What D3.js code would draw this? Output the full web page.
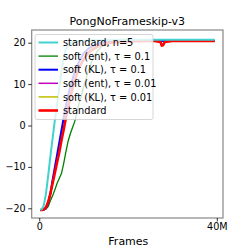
<!DOCTYPE html>
<html><head><meta charset="utf-8">
<script src="https://cdn.jsdelivr.net/npm/d3@7"></script>
<style>body{margin:0;background:#fff}svg{display:block}text{font-family:"DejaVu Sans",sans-serif;fill:#000}</style>
</head><body><svg id="c" width="249" height="249"></svg>
<script>
const title = "PongNoFrameskip-v3";
const xLabel = "Frames";
const xTicks = [0, 40];
const xTickLabels = ["0", "40M"];
const yTicks = [-20, -10, 0, 10, 20];
const seriesNames = ["standard, n=5", "soft (ent), \u03c4 = 0.1", "soft (KL), \u03c4 = 0.1", "soft (ent), \u03c4 = 0.01", "soft (KL), \u03c4 = 0.01", "standard"];
const seriesColors = ["#3fd2cf", "#008000", "#0000ff", "#bf00bf", "#bfbf00", "#ff0000"];
const seriesWidths = [2, 1.3, 2, 1.5, 1.5, 2.6];
// frames in millions
const frames = [0.2,0.6,1,1.5,2,2.5,3,3.5,4,4.5,5,5.5,6,6.5,7,7.5,8,9,10,11,12,13,14,15,17,20,23,26,27.3,27.6,27.9,28.3,30,33,36,39.5];
const stdN5   = [-20.4,-20.2,-19.4,-16.6,-12.2,-7.6,-3.2,1.2,5,9,13,16.3,18.5,19.4,19.8,20.1,20.3,20.4,20.5,20.5,20.6,20.6,20.6,20.6,20.7,20.7,20.7,20.7,20.7,20.7,20.7,20.7,20.7,20.7,20.7,20.7];
const softEnt1 = [-20.5,-20.4,-20.4,-20.2,-19.6,-18.2,-17,-15.6,-14,-12.8,-11.6,-9.2,-6.4,-3.8,-2,-0.5,1,5.5,9.3,13,16,17.8,19,19.6,20.2,20.4,20.5,20.5,20.5,20.5,20.5,20.5,20.6,20.6,20.6,20.6];
const softKL1  = [-20.4,-20.4,-20.3,-20,-18.8,-16.5,-13.2,-10.2,-7.2,-4.2,-1.2,1.8,4.8,7.2,9.4,11.2,13,15.5,17.4,18.5,19.2,19.7,20,20.2,20.3,20.4,20.4,20.4,20.4,20.4,20.4,20.4,20.4,20.4,20.4,20.4];
const softEnt01 = [-20.4,-20.4,-20.3,-19.9,-18.6,-16.6,-14,-11.4,-8.8,-6,-3.2,-0.6,2.2,4.8,7,9,11,14,16,17.6,18.6,19.3,19.7,20,20.2,20.3,20.4,20.4,20.4,20.4,20.4,20.4,20.4,20.4,20.4,20.4];
const softKL01  = [-20.4,-20.4,-20.3,-19.9,-18.5,-16.4,-13.8,-11.2,-8.6,-5.8,-3,-0.4,2.4,5,7.2,9.2,11.2,14.2,16.2,17.8,18.8,19.4,19.8,20,20.2,20.3,20.4,20.4,20.4,20.4,20.4,20.4,20.4,20.4,20.4,20.4];
const standard  = [-20.4,-20.4,-20.3,-19.8,-18.5,-16.5,-14,-11.5,-9,-6.5,-3.6,-1,1.8,4.4,6.8,9,11,14,16,17.5,18.3,19,19.5,19.8,20.1,20.3,20.4,20.4,20.2,19.3,19.4,20.2,20.4,20.4,20.4,20.4];
const seriesValues = [stdN5, softEnt1, softKL1, softEnt01, softKL01, standard];
const drawOrder = [3, 4, 1, 2, 5, 0];

const svg = d3.select("#c");
const L = 31.7, R = 223, T = 30, B = 218;
const x = d3.scaleLinear().domain([-1.7, 41.4]).range([L, R]);
const y = d3.scaleLinear().domain([-20, 20]).range([208.3, 42.7]);

svg.append("text").attr("x", (L + R) / 2).attr("y", 25).attr("text-anchor", "middle").attr("font-size", 11).text(title);

const clip = svg.append("clipPath").attr("id", "cl").append("rect").attr("x", L).attr("y", T).attr("width", R - L).attr("height", B - T);
const line = d3.line().x((d, i) => x(frames[i])).y(d => y(d));
const lg = svg.append("g").attr("clip-path", "url(#cl)");
drawOrder.forEach(k => {
  lg.append("path").attr("d", line(seriesValues[k])).attr("fill", "none")
    .attr("stroke", seriesColors[k]).attr("stroke-width", seriesWidths[k]).attr("stroke-linejoin", "round");
});

svg.append("rect").attr("x", L).attr("y", T).attr("width", R - L).attr("height", B - T)
  .attr("fill", "none").attr("stroke", "#888").attr("stroke-width", 1.2);

const xa = svg.append("g").attr("transform", `translate(0,${B})`)
  .call(d3.axisBottom(x).tickValues(xTicks).tickFormat((d, i) => xTickLabels[i]).tickSize(3.5).tickPadding(2));
const ya = svg.append("g").attr("transform", `translate(${L},0)`)
  .call(d3.axisLeft(y).tickValues(yTicks).tickFormat(d => d < 0 ? "\u2212" + Math.abs(d) : d).tickSize(3.5).tickPadding(2.5));
[xa, ya].forEach(a => {
  a.select(".domain").remove();
  a.selectAll("line").attr("stroke", "#000").attr("stroke-width", 0.8);
  a.selectAll("text").attr("font-size", 9.6).attr("font-family", "DejaVu Sans").attr("fill", "#000");
});

svg.append("text").attr("x", (L + R) / 2 + 1).attr("y", 245).attr("text-anchor", "middle").attr("font-size", 11).text(xLabel);

const leg = svg.append("g");
leg.append("rect").attr("x", 35).attr("y", 34.5).attr("width", 118).attr("height", 85).attr("rx", 2)
  .attr("fill", "#fff").attr("fill-opacity", 0.8).attr("stroke", "#ccc").attr("stroke-width", 0.8);
seriesNames.forEach((n, i) => {
  const yy = 42.5 + i * 13.6;
  leg.append("line").attr("x1", 38.5).attr("x2", 58).attr("y1", yy).attr("y2", yy)
    .attr("stroke", seriesColors[i]).attr("stroke-width", seriesWidths[i]);
  leg.append("text").attr("x", 63).attr("y", yy + 3.6).attr("font-size", 9.8).text(n);
});
</script></body></html>
